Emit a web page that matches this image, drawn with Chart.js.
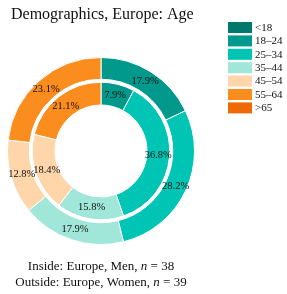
<!DOCTYPE html>
<html>
<head>
<meta charset="utf-8">
<script src="https://cdn.jsdelivr.net/npm/chart.js@4"></script>
<style>
  html, body { margin: 0; padding: 0; background: #fff; }
  #wrap { position: relative; width: 287px; height: 294px; }
</style>
</head>
<body>
<div id="wrap"><canvas id="ageChart" width="287" height="294"></canvas></div>
<script>
const ageGroups = ['<18', '18–24', '25–34', '35–44', '45–54', '55–64', '>65'];
const menShares = [0, 7.9, 36.8, 15.8, 18.4, 21.1, 0];      // inside ring, n = 38
const womenShares = [0, 17.9, 28.2, 17.9, 12.8, 23.1, 0];   // outside ring, n = 39
const chartTitle = 'Demographics, Europe: Age';
const footLines = [
  ['Inside: Europe, Men, ', 'n', ' = 38'],
  ['Outside: Europe, Women, ', 'n', ' = 39']
];

const palette = ['#00786c', '#00998b', '#00c5b4', '#a0e7d9', '#ffd5aa', '#fb8c1e', '#ef6a06'];
const serif = '"Liberation Serif", "Times New Roman", serif';

// draws title, legend, percentage labels and the footnote
const extras = {
  id: 'extras',
  afterDraw(chart) {
    const c = chart.ctx;
    c.save();
    c.fillStyle = '#111';
    c.textBaseline = 'alphabetic';
    c.font = '16px ' + serif;
    c.fillText(chartTitle, 11, 19);

    // legend
    c.font = '11px ' + serif;
    c.textBaseline = 'middle';
    ageGroups.forEach((g, i) => {
      const y = 22 + i * 13.4;
      c.fillStyle = palette[i];
      c.fillRect(228, y, 24, 11);
      c.fillStyle = '#111';
      c.fillText(g, 255, y + 6);
    });

    // slice labels
    c.font = '10.5px ' + serif;
    c.textAlign = 'center';
    [0, 2].forEach(di => {
      const meta = chart.getDatasetMeta(di);
      const vals = chart.data.datasets[di].data;
      meta.data.forEach((arc, i) => {
        if (!vals[i]) return;
        const p = arc.tooltipPosition();
        c.fillText(vals[i].toFixed(1) + '%', p.x, p.y);
      });
    });

    // footnote
    c.textAlign = 'left';
    c.textBaseline = 'alphabetic';
    footLines.forEach((parts, li) => {
      const fonts = ['13px ' + serif, 'italic 13px ' + serif, '13px ' + serif];
      let w = 0;
      parts.forEach((t, k) => { c.font = fonts[k]; w += c.measureText(t).width; });
      let x = 101 - w / 2;
      const y = 270 + li * 16;
      parts.forEach((t, k) => {
        c.font = fonts[k];
        c.fillText(t, x, y);
        x += c.measureText(t).width;
      });
    });
    c.restore();
  }
};

new Chart(document.getElementById('ageChart'), {
  type: 'doughnut',
  data: {
    labels: ageGroups,
    datasets: [
      { data: womenShares, backgroundColor: palette, borderColor: '#fff', borderWidth: 1, weight: 22 },
      { data: [1], backgroundColor: '#fff', borderWidth: 0, weight: 3 },
      { data: menShares, backgroundColor: palette, borderColor: '#fff', borderWidth: 1, weight: 23 }
    ]
  },
  options: {
    responsive: false,
    animation: false,
    cutout: 46,
    hoverOffset: 0,
    layout: { padding: { left: 7, right: 92, top: 57, bottom: 49 } },
    plugins: {
      legend: { display: false },
      tooltip: { enabled: false },
      title: { display: false }
    }
  },
  plugins: [extras]
});
</script>
</body>
</html>
